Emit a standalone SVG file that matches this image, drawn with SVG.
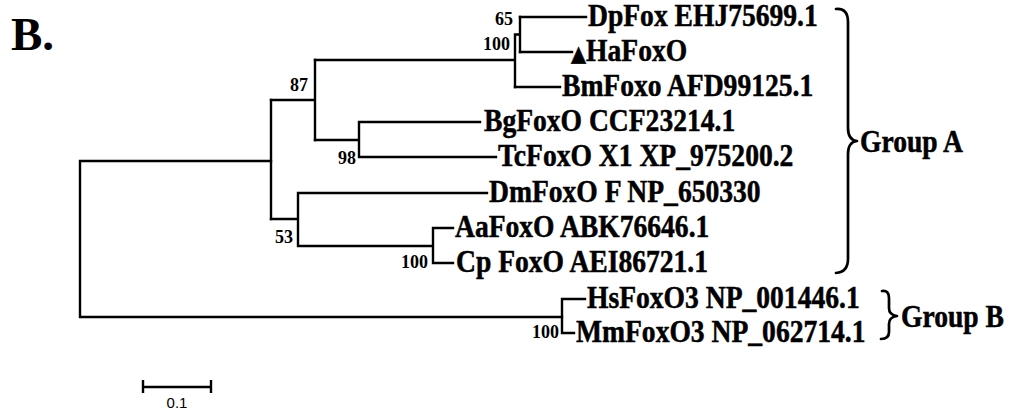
<svg xmlns="http://www.w3.org/2000/svg" width="1010" height="410" viewBox="0 0 1010 410">
<style>
.br{fill:none;stroke:#000;stroke-width:2.4;stroke-linecap:square}
.brace{fill:none;stroke:#000;stroke-width:2.7;stroke-linecap:round;stroke-linejoin:round}
.lf{font-family:"Liberation Serif","Times New Roman",serif;font-weight:bold;font-size:31px;fill:#000;stroke:#000;stroke-width:0.5}
.bs{font-family:"Liberation Serif","Times New Roman",serif;font-weight:bold;font-size:18px;fill:#000;text-anchor:end}
.grp{font-family:"Liberation Serif","Times New Roman",serif;font-weight:bold;font-size:31px;fill:#000;stroke:#000;stroke-width:0.5}
.sc{font-family:"Liberation Sans",Arial,sans-serif;font-size:15px;fill:#000;text-anchor:middle}
</style>
<rect width="1010" height="410" fill="#fff"/>
<text x="11" y="50" font-family="'Liberation Serif','Times New Roman',serif" font-weight="bold" font-size="47">B.</text>
<g id="connectors">
<path class="br" d="M271,161 H80 V317 H562"/>
<path class="br" d="M271,100 V219"/>
<path class="br" d="M271,100 H315 M315,60 V140"/>
<path class="br" d="M315,60 H515 M515,34.5 V87 M515,34.5 H520 M520,17 V52"/>
<path class="br" d="M520,17 H586 M520,52 H572 M515,87 H560"/>
<path class="br" d="M315,140 H359 M359,122 V157 M359,122 H480 M359,157 H496"/>
<path class="br" d="M271,219 H298 M298,193 V246 M298,193 H487 M298,246 H433 M433,228 V263 M433,228 H453 M433,263 H453"/>
<path class="br" d="M562,299 V333 M562,299 H585 M562,333 H574"/>
</g>
<g id="bootstrap">
<text class="bs" x="513" y="25" font-size="17">65</text>
<text class="bs" x="510" y="50">100</text>
<text class="bs" x="308" y="91" font-size="19">87</text>
<text class="bs" x="356" y="164" font-size="17">98</text>
<text class="bs" x="293" y="243" font-weight="normal" font-size="19">53</text>
<text class="bs" x="428" y="268">100</text>
<text class="bs" x="559" y="338" font-size="15">100</text>
</g>
<g id="leaf-dp"><text class="lf" transform="translate(588,26) scale(0.89,1)">DpFox EHJ75699.1</text></g>
<g id="leaf-ha"><text class="lf" transform="translate(571,61) scale(0.89,1)"><tspan font-family="'DejaVu Sans',sans-serif" font-size="22">▲</tspan>HaFoxO</text></g>
<g id="leaf-bm"><text class="lf" transform="translate(562,96) scale(0.89,1)">BmFoxo AFD99125.1</text></g>
<g id="leaf-bg"><text class="lf" transform="translate(484,131) scale(0.89,1)">BgFoxO CCF23214.1</text></g>
<g id="leaf-tc"><text class="lf" transform="translate(498,166) scale(0.89,1)">TcFoxO X1 XP_975200.2</text></g>
<g id="leaf-dm"><text class="lf" transform="translate(489,202) scale(0.89,1)">DmFoxO F NP_650330</text></g>
<g id="leaf-aa"><text class="lf" transform="translate(455,237) scale(0.89,1)">AaFoxO ABK76646.1</text></g>
<g id="leaf-cp"><text class="lf" transform="translate(456,272) scale(0.89,1)">Cp FoxO AEI86721.1</text></g>
<g id="leaf-hs"><text class="lf" transform="translate(587,308) scale(0.89,1)">HsFoxO3 NP_001446.1</text></g>
<g id="leaf-mm"><text class="lf" transform="translate(576,342) scale(0.89,1)">MmFoxO3 NP_062714.1</text></g>
<g id="group-a">
<path class="brace" d="M836,9 Q848,8 848,22 V128 Q848,140 857,141 Q848,142 848,154 V259 Q848,272 836,273"/>
<text class="grp" transform="translate(860,152) scale(0.89,1)">Group A</text>
</g>
<g id="group-b">
<path class="brace" d="M882,291 Q889,290 889,298 V308 Q889,315 897,316 Q889,317 889,324 V332 Q889,339 881,339"/>
<text class="grp" transform="translate(901,327) scale(0.89,1)">Group B</text>
</g>
<g id="scale">
<path class="br" d="M143,387 H211 M143,380 V393 M211,380 V393" style="stroke-linecap:butt"/>
<text class="sc" x="177" y="408">0.1</text>
</g>
</svg>
